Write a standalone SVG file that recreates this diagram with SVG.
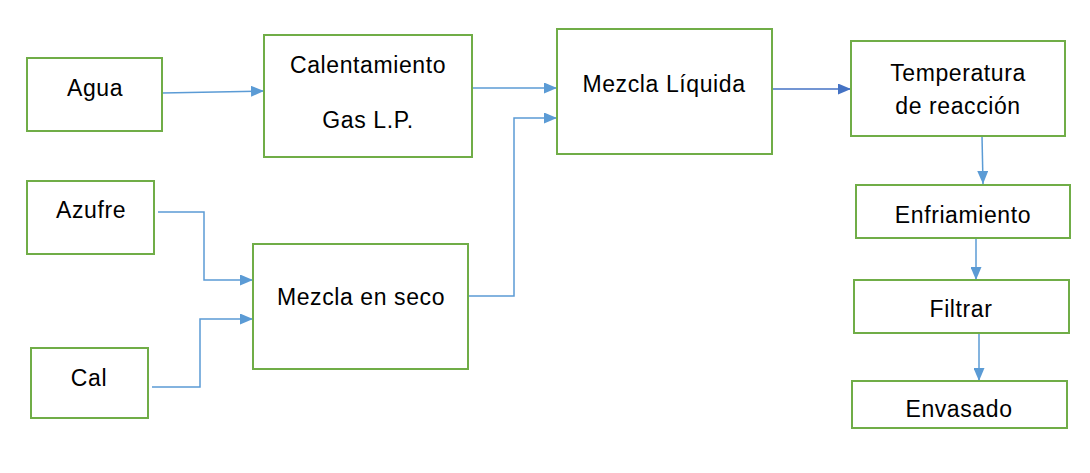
<svg xmlns="http://www.w3.org/2000/svg" width="1090" height="473" viewBox="0 0 1090 473">
<style>
.box{fill:#fff;stroke:#70AD47;stroke-width:2}
.t{font-family:"Liberation Sans",Arial,sans-serif;font-size:23px;letter-spacing:0.6px;fill:#000;text-anchor:middle}
.c{fill:none;stroke:#5B9BD5;stroke-width:1.5}
.d{fill:none;stroke:#4472C4;stroke-width:1.5}
</style>
<defs>
<marker id="ah" viewBox="0 0 13 11" refX="13" refY="5.5" markerWidth="13" markerHeight="11" markerUnits="userSpaceOnUse" orient="auto"><path d="M0,0 L13,5.5 L0,11 Z" fill="#5B9BD5"/></marker>
<marker id="ahd" viewBox="0 0 13 11" refX="13" refY="5.5" markerWidth="13" markerHeight="11" markerUnits="userSpaceOnUse" orient="auto"><path d="M0,0 L13,5.5 L0,11 Z" fill="#4472C4"/></marker>
</defs>
<rect width="1090" height="473" fill="#fff"/>
<g id="connectors">
<path class="c" d="M162,93 L264,91" marker-end="url(#ah)"/>
<path class="c" d="M472,88 L557,88" marker-end="url(#ah)"/>
<path class="c" d="M468,296 L514,296 L514,118 L557,118" marker-end="url(#ah)"/>
<path class="c" d="M158,212 L204,212 L204,280 L253,280" marker-end="url(#ah)"/>
<path class="c" d="M152,387 L200,387 L200,319 L253,319" marker-end="url(#ah)"/>
<path class="d" d="M772,89 L851,89" marker-end="url(#ahd)"/>
<path class="c" d="M982,136 L983,184" marker-end="url(#ah)"/>
<path class="c" d="M976,238 L976,280" marker-end="url(#ah)"/>
<path class="c" d="M979,333 L979,381" marker-end="url(#ah)"/>
</g>
<g id="agua"><rect class="box" x="27" y="58" width="135" height="73"/><text class="t" x="95" y="96">Agua</text></g>
<g id="calentamiento"><rect class="box" x="264" y="35" width="208" height="122"/><text class="t" x="368" y="73">Calentamiento</text><text class="t" x="368" y="128">Gas L.P.</text></g>
<g id="mezcla-liquida"><rect class="box" x="557" y="29" width="215" height="125"/><text class="t" x="664" y="92">Mezcla Líquida</text></g>
<g id="temperatura"><rect class="box" x="851" y="41" width="214" height="95"/><text class="t" x="958" y="81">Temperatura</text><text class="t" x="958" y="114">de reacción</text></g>
<g id="azufre"><rect class="box" x="27" y="181" width="127" height="73"/><text class="t" x="91" y="218">Azufre</text></g>
<g id="mezcla-seco"><rect class="box" x="253" y="244" width="215" height="125"/><text class="t" x="361" y="305">Mezcla en seco</text></g>
<g id="cal"><rect class="box" x="31" y="348" width="117" height="70"/><text class="t" x="89" y="386">Cal</text></g>
<g id="enfriamiento"><rect class="box" x="856" y="185" width="214" height="53"/><text class="t" x="963" y="223">Enfriamiento</text></g>
<g id="filtrar"><rect class="box" x="854" y="280" width="215" height="53"/><text class="t" x="961" y="317">Filtrar</text></g>
<g id="envasado"><rect class="box" x="852" y="381" width="215" height="47"/><text class="t" x="959" y="417">Envasado</text></g>
</svg>
